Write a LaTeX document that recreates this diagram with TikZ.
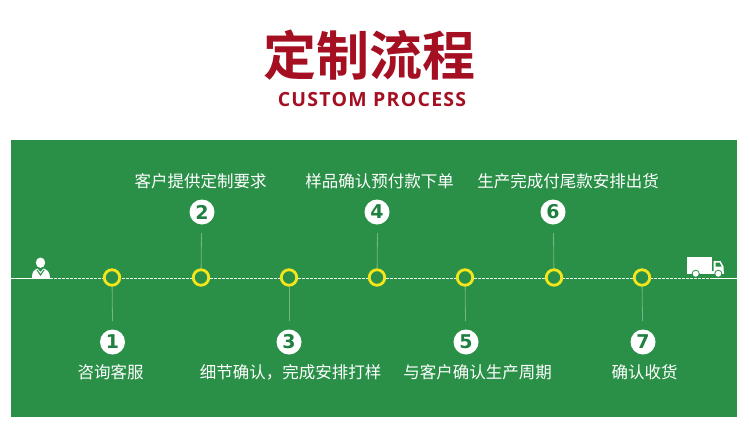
\documentclass[tikz,border=0pt]{standalone}
\usepackage{fontspec}
\setmainfont{Open Sans}
\newfontfamily\cjk{Noto Sans CJK SC}
\newfontfamily\cjkb{Noto Sans CJK SC Bold}
\newfontfamily\numfont{DejaVu Sans Bold}
\newfontfamily\subfont[LetterSpace=6.5]{Open Sans}
\definecolor{bggreen}{HTML}{2A9048}
\definecolor{dkred}{HTML}{A50F22}
\definecolor{ringy}{HTML}{F5E51B}
\definecolor{numgreen}{HTML}{1F8040}
\tikzset{
  x=1pt,y=-1pt,
  ring/.style={circle,draw=ringy,line width=2.8pt,fill=bggreen,minimum size=15.5pt,inner sep=0pt},
  badge/.style={circle,fill=white,text=numgreen,minimum size=25pt,inner sep=0pt,font=\numfont\fontsize{19}{19}\selectfont},
  steplabel/.style={text=white,inner sep=0pt,font=\cjk\fontsize{16.5}{17}\selectfont},
  stem/.style={draw=white,draw opacity=.35,line width=.8pt},
  axisdash/.style={draw=white,draw opacity=.9,line width=.8pt,dash pattern=on 2.5pt off 1.5pt},
  axissolid/.style={draw=white,line width=1pt},
  iconfill/.style={fill=white,draw=none}
}
\begin{document}
\begin{tikzpicture}
\useasboundingbox (0,0) rectangle (749,429);
\fill[white] (0,0) rectangle (749,429);
\fill[bggreen] (11,140) rectangle (737,417);
% titles
\node[text=dkred,inner sep=0pt,font=\cjkb\fontsize{53}{53}\selectfont] (title) at (369.5,55) {定制流程};
\node[text=dkred,inner sep=0pt,font=\subfont\fontsize{19.5}{20}\selectfont\bfseries] (subtitle) at (372,100) {CUSTOM PROCESS};
% axis ends
\coordinate (left) at (11,278);
\coordinate (leftend) at (50,278);
\coordinate (rightend) at (713,278);
\coordinate (right) at (737,278);
\draw[axissolid] (left) -- (leftend);
\draw[axissolid] (rightend) -- (right);
\draw[axisdash] (leftend) -- (rightend);
% rings
\foreach \n/\x in {1/112,2/201,3/289,4/377,5/465,6/554,7/642}
  \node[ring] (r\n) at (\x,277.5) {};
% badges
\node[badge] (b1) at (112.5,342) {1};
\node[badge] (b2) at (202,212) {2};
\node[badge] (b3) at (289,342) {3};
\node[badge] (b4) at (377,212) {4};
\node[badge] (b5) at (466,342) {5};
\node[badge] (b6) at (553,212) {6};
\node[badge] (b7) at (643,342) {7};
% stems
\coordinate (s1) at (112.5,321);
\coordinate (s2) at (201.5,233);
\coordinate (s3) at (289,321);
\coordinate (s4) at (377.5,233);
\coordinate (s5) at (465.5,321);
\coordinate (s6) at (553.5,233);
\coordinate (s7) at (642.5,321);
\foreach \n in {1,...,7} \draw[stem] (r\n) -- (s\n);
% labels
\node[steplabel] (t1) at (110.5,372.5) {咨询客服};
\node[steplabel] (t2) at (200.5,181.5) {客户提供定制要求};
\node[steplabel] (t3) at (290.5,372.5) {细节确认，完成安排打样};
\node[steplabel] (t4) at (379.5,181.5) {样品确认预付款下单};
\node[steplabel] (t5) at (477.5,372.5) {与客户确认生产周期};
\node[steplabel] (t6) at (568,181.5) {生产完成付尾款安排出货};
\node[steplabel] (t7) at (644.5,372.5) {确认收货};
% person icon
\fill[iconfill] (40.5,262.7) ellipse (4.7 and 5.2);
\fill[iconfill] (32,278) .. controls (32,272) and (33.5,270) .. (37.5,268.5) -- (40.5,272) -- (43.5,268.5) .. controls (47.5,270) and (50,272) .. (50,278) -- cycle;
\fill[bggreen] (36.5,270) -- (40.5,276) -- (44.5,270) -- (43.7,269.5) -- (40.5,274) -- (37.3,269.5) -- cycle;
% truck icon
\fill[iconfill] (686.5,257.3) rectangle (712,270.5);
\fill[iconfill] (686.5,270.5) rectangle (723.5,273.5);
\fill[iconfill] (713.5,261) -- (720.5,261) -- (723.5,266.5) -- (723.5,273.5) -- (713.5,273.5) -- cycle;
\fill[bggreen] (715.5,262.5) -- (719.5,262.5) -- (721.5,266.5) -- (715.5,266.5) -- cycle;
\fill[bggreen] (695.7,273.7) circle (4);
\fill[bggreen] (718.3,273.7) circle (4);
\fill[iconfill] (695.7,273.7) circle (3);
\fill[iconfill] (718.3,273.7) circle (3);
\end{tikzpicture}
\end{document}
